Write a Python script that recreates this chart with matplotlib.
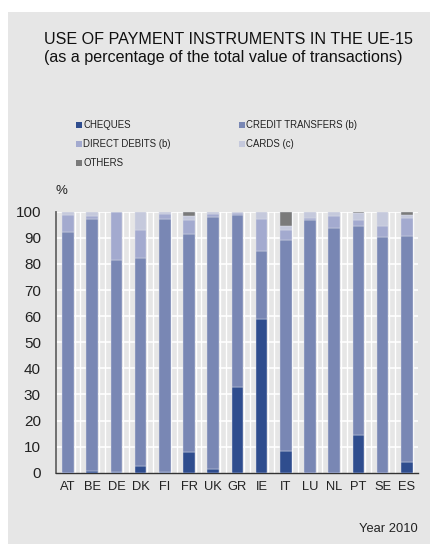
import matplotlib
matplotlib.use("Agg")
import matplotlib.pyplot as plt
from matplotlib.patches import Rectangle
import numpy as np

plt.rcParams['font.family'] = ['Liberation Sans', 'DejaVu Sans']

countries = ["AT", "BE", "DE", "DK", "FI", "FR", "UK", "GR", "IE", "IT", "LU", "NL", "PT", "SE", "ES"]
cheques = [0.0, 0.8, 0.3, 2.6, 0.3, 8.0, 1.5, 33.0, 58.8, 8.4, 0.0, 0.0, 14.4, 0.0, 4.2]
credit_transfers = [92.2, 96.3, 81.2, 79.8, 97.0, 83.6, 96.6, 65.9, 26.3, 80.9, 97.0, 93.9, 80.2, 90.4, 86.6]
direct_debits = [6.5, 1.4, 18.5, 10.6, 1.8, 5.2, 1.2, 0.6, 12.0, 3.8, 0.5, 4.6, 2.2, 4.0, 6.9]
cards = [1.3, 1.5, 0.0, 7.0, 0.9, 1.5, 0.7, 0.5, 2.9, 1.3, 2.5, 1.5, 2.6, 5.6, 0.9]
others = [0.0, 0.0, 0.0, 0.0, 0.0, 1.7, 0.0, 0.0, 0.0, 5.6, 0.0, 0.0, 0.6, 0.0, 1.4]
series_names = ["CHEQUES", "CREDIT TRANSFERS (b)", "DIRECT DEBITS (b)", "CARDS (c)", "OTHERS"]
yticks = [0, 10, 20, 30, 40, 50, 60, 70, 80, 90, 100]

colors = ["#2f4d8e", "#7987b4", "#a3aacf", "#c5c9dc", "#7a7a7a"]
bg = "#e6e6e6"

W, H = 430, 544
fig = plt.figure(figsize=(W / 100, H / 100), dpi=100)
fig.patch.set_facecolor("white")
fig.patches.append(Rectangle((8 / W, 0), 1 - 8 / W, 1 - 12 / H, transform=fig.transFigure,
                             facecolor=bg, edgecolor="none", zorder=-5))

ax = fig.add_axes([55.5 / W, (H - 472.7) / H, (418 - 55.5) / W, (472.7 - 211.7) / H])
ax.set_zorder(2)
ax.set_facecolor(bg)

x = np.arange(len(countries))
data = [cheques, credit_transfers, direct_debits, cards, others]
bottom = np.zeros(len(countries))
for vals, c, name in zip(data, colors, series_names):
    vals = np.array(vals)
    ax.bar(x, vals, width=0.48, bottom=bottom, color=c, edgecolor="#dde0ea",
           linewidth=0.3, zorder=3, label=name)
    bottom += vals

ax.set_xlim(-0.52, len(countries) - 0.54)
ax.set_ylim(0, 100)
ax.set_yticks(yticks)
ax.set_xticks(x)
ax.set_xticklabels(countries)
for v in yticks[1:]:
    ax.axhline(v, color="white", lw=1.2, zorder=1)
for i in x:
    ax.axvline(i + 0.27, color="white", lw=1.0, zorder=1)
    ax.axvline(i + 0.51, color="white", lw=1.0, zorder=1)

ax.tick_params(axis="both", length=0, labelcolor="#222222")
ax.tick_params(axis="y", labelsize=11, pad=10.5)
ax.tick_params(axis="x", labelsize=9.3, pad=6.0)
for s in ["top", "right"]:
    ax.spines[s].set_visible(False)
ax.spines["left"].set_color("#666666")
ax.spines["bottom"].set_color("#333333")
ax.spines["left"].set_linewidth(1.3)
ax.spines["bottom"].set_linewidth(1.0)

# titles
fig.text(228 / W, 1 - 40 / H, "USE OF PAYMENT INSTRUMENTS IN THE UE-15", ha="center", va="center",
         fontsize=11.6, color="#111111")
fig.text(223 / W, 1 - 57.5 / H, "(as a percentage of the total value of transactions)", ha="center",
         va="center", fontsize=11.6, color="#111111")

# legend
pos = [(76, 125), (239, 125), (76, 144.3), (239, 144.3), (76, 163.3)]
for (px, py), c, name in zip(pos, colors, series_names):
    fig.patches.append(Rectangle((px / W, 1 - (py + 3) / H), 6 / W, 6 / H,
                                 transform=fig.transFigure, facecolor=c, edgecolor="none"))
    fig.text((px + 7.3) / W, 1 - py / H, name, ha="left", va="center", fontsize=6.9,
             color="#222222")

fig.text(61 / W, 1 - 191 / H, "%", ha="center", va="center", fontsize=9.5, color="#222222")
fig.text(418 / W, 1 - 529 / H, "Year 2010", ha="right", va="center", fontsize=9.3, color="#222222")

fig.savefig("out.png", dpi=100, facecolor=fig.get_facecolor())
